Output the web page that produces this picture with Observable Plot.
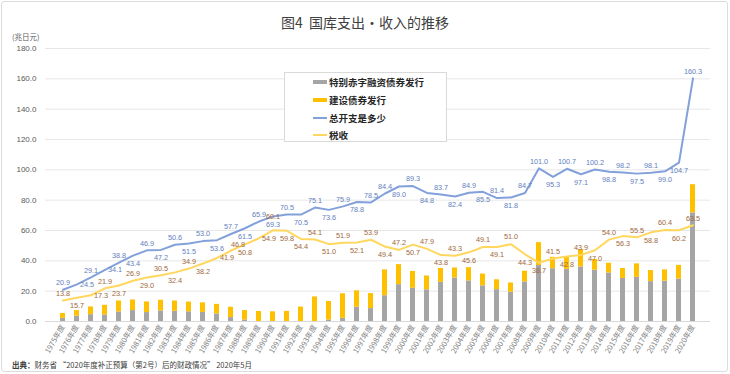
<!DOCTYPE html>
<html>
<head>
<meta charset="utf-8">
<script src="https://cdn.jsdelivr.net/npm/d3@7"></script>
<script src="https://cdn.jsdelivr.net/npm/@observablehq/plot@0.6"></script>
<style>
  html, body { margin: 0; padding: 0; background: #fff; }
  body { font-family: "Noto Sans CJK SC", "Noto Sans", sans-serif; }
  #wrap { position: relative; width: 730px; height: 374px; overflow: hidden; }
  #frame { position: absolute; left: 1px; top: 1px; width: 727px; height: 371px; border: 1px solid #dcdcdc; border-radius: 3px; box-sizing: border-box; pointer-events: none; }
  #title { position: absolute; left: 0; width: 730px; top: 12px; text-align: center; font-size: 14px; color: #404040; }
  #unit { position: absolute; left: 12px; top: 31px; font-size: 7.5px; color: #595959; }
  #source { position: absolute; left: 12px; top: 359px; font-size: 7.5px; color: #404040; }
  #source b { font-weight: 700; }
  #legend { position: absolute; left: 284px; top: 72px; width: 163px; height: 70px; border: 1px solid #d9d9d9; background: #fff; box-sizing: border-box; }
  .item { position: absolute; left: 28px; height: 14px; display: flex; align-items: center; font-size: 9.5px; font-weight: 700; color: #262626; }
  .sw { width: 14px; margin-right: 2px; }
  #chart { position: absolute; left: 0; top: 0; }
</style>
</head>
<body>
<div id="wrap">
  <div id="chart"></div>
  <div id="title">图4&nbsp;&nbsp;国库支出・收入的推移</div>
  <div id="unit">(兆日元)</div>
  <div id="legend"></div>
  <div id="source"><b>出典：</b>财务省 “2020年度补正预算（第2号）后的财政情况” 2020年5月</div>
  <div id="frame"></div>
</div>
<script>
const years = [1975,1976,1977,1978,1979,1980,1981,1982,1983,1984,
  1985,1986,1987,1988,1989,1990,1991,1992,1993,1994,
  1995,1996,1997,1998,1999,2000,2001,2002,2003,2004,
  2005,2006,2007,2008,2009,2010,2011,2012,2013,2014,
  2015,2016,2017,2018,2019,2020];

const totalSpending = [20.9,24.5,29.1,34.1,38.8,43.4,46.9,47.2,50.6,51.5,
  53.0,53.6,57.7,61.5,65.9,69.3,70.5,70.5,75.1,73.6,
  75.9,78.8,78.5,84.4,89.0,89.3,84.8,83.7,82.4,84.9,
  85.5,81.4,81.8,84.7,101.0,95.3,100.7,97.1,100.2,98.8,
  98.2,97.5,98.1,99.0,104.7,160.3];

const taxRevenue = [13.8,15.7,17.3,21.9,23.7,26.9,29.0,30.5,32.4,34.9,
  38.2,41.9,46.8,50.8,54.9,60.1,59.8,54.4,54.1,51.0,
  51.9,52.1,53.9,49.4,47.2,50.7,47.9,43.8,43.3,45.6,
  49.1,49.1,51.0,44.3,38.7,41.5,42.8,43.9,47.0,54.0,
  56.3,55.5,58.8,60.4,60.2,63.5];

const deficitBonds = [2.1,3.5,4.5,4.3,6.3,7.2,5.9,7.0,6.7,6.4,
  6.0,5.0,2.6,1.0,0.0,0.0,0.0,0.0,0.0,1.0,
  2.1,9.4,8.5,17.0,24.3,21.9,20.9,25.8,28.7,26.8,
  23.5,21.0,19.3,26.1,36.9,34.8,34.4,36.0,33.8,32.0,
  28.4,29.1,26.3,26.6,28.0,71.6];

const constructionBonds = [3.2,3.7,5.1,6.4,7.2,7.0,7.0,7.0,6.8,6.4,
  6.3,6.3,6.8,6.2,6.6,6.4,6.7,9.5,16.2,12.2,
  16.2,10.8,9.9,17.0,13.2,11.1,9.1,9.2,6.6,8.7,
  7.8,6.5,6.1,7.1,15.1,7.5,8.4,11.4,7.1,6.4,
  6.5,8.9,7.3,7.4,9.0,18.6];

const seriesNames = ["特别赤字融资债券发行", "建设债券发行", "总开支是多少", "税收"];
const yTicks = [0,20,40,60,80,100,120,140,160,180];

const colors = {
  deficit: "#a5a5a5",
  construction: "#ffc000",
  spend: "#82a0da",
  spendText: "#6482c0",
  tax: "#ffd75e",
  taxText: "#a06a3c"
};

// layout constants (not data)
const W = 730, H = 374, mT = 48, mB = 53, mL = 45, mR = 20;
const padIn = 0.65, padOut = 0.25;
const LABEL_FS = 7.3;

const bondRows = years.flatMap((year, i) => [
  {year, series: seriesNames[0], value: deficitBonds[i]},
  {year, series: seriesNames[1], value: constructionBonds[i]}
]);
const spendRows = years.map((year, i) => ({year, value: totalSpending[i]}));
const taxRows = years.map((year, i) => ({year, value: taxRevenue[i]}));

// ---- data-label placement ----
function sides(vals, threshold) {
  const out = [];
  vals.forEach((v, i) => {
    if (i === 0 || i === vals.length - 1) { out.push("above"); return; }
    const diff = v - (vals[i - 1] + vals[i + 1]) / 2;
    if (Math.abs(diff) < threshold) out.push(out[i - 1] === "above" ? "below" : "above");
    else out.push(diff >= 0 ? "above" : "below");
  });
  return out;
}
const spendSide = sides(totalSpending, 0);
const taxSide = sides(taxRevenue, 1.0);

// mirror of the plot's scales, only used to detect label collisions
const xs = d3.scaleBand(years, [mL, W - mR]).paddingInner(padIn).paddingOuter(padOut);
const ys = d3.scaleLinear([0, 180], [H - mB, mT]);
const fmtV = v => v.toFixed(1);
const textW = s => [...s].reduce((a, c) => a + (c === "." ? 0.278 : 0.556) * LABEL_FS, 0);
const TH = 7.5;

const placed = [];
const labels = [];
function overlap(b) {
  let area = 0;
  for (const p of placed) {
    const ox = (p.w + b.w) / 2 + 0.4 - Math.abs(p.x - b.x);
    const oy = TH + 0.4 - Math.abs(p.y - b.y);
    if (ox > 0 && oy > 0) area += ox * oy;
  }
  return area;
}
function place(row, pref, series) {
  const s = fmtV(row.value), w = textW(s);
  const px = xs(row.year) + xs.bandwidth() / 2, py = ys(row.value);
  const A = {dx: 0, dy: -7}, B = {dx: 0, dy: 8};
  const R = {dx: Math.round(w / 2 + 3), dy: 0}, L = {dx: -Math.round(w / 2 + 3), dy: 0};
  const AR = {dx: Math.round(w / 2), dy: -6}, BR = {dx: Math.round(w / 2), dy: 7};
  const AA = {dx: 0, dy: -14}, BB = {dx: 0, dy: 15};
  const cands = pref === "above" ? [A, B, R, AR, BR, L, AA, BB] : [B, A, R, BR, AR, L, BB, AA];
  let best = null, bestArea = Infinity;
  for (const c of cands) {
    const a = overlap({x: px + c.dx, y: py + c.dy, w});
    if (a === 0) { best = c; break; }
    if (a < bestArea) { bestArea = a; best = c; }
  }
  placed.push({x: px + best.dx, y: py + best.dy, w});
  labels.push({...row, series, dx: best.dx, dy: best.dy});
}
years.forEach((y, i) => {
  place(spendRows[i], spendSide[i], "spend");
  place(taxRows[i], taxSide[i], "tax");
});
const labelGroups = d3.groups(labels, d => d.series + "|" + d.dx + "|" + d.dy);
const labelMarks = labelGroups.map(([key, rows]) => Plot.text(rows, {
  x: "year", y: "value", text: d => fmtV(d.value),
  dx: rows[0].dx, dy: rows[0].dy,
  fill: rows[0].series === "spend" ? colors.spendText : colors.taxText,
  fontSize: LABEL_FS
}));

const labelFont = "'Liberation Sans', Arial, sans-serif";

const chart = Plot.plot({
  width: W,
  height: H,
  marginTop: mT,
  marginBottom: mB,
  marginLeft: mL,
  marginRight: mR,
  style: { fontFamily: labelFont, fontSize: "8px", background: "transparent", overflow: "visible" },
  x: {
    type: "band",
    domain: years,
    paddingInner: padIn,
    paddingOuter: padOut,
    tickFormat: d => d + "年度",
    tickRotate: -60,
    tickSize: 0,
    tickPadding: 4,
    label: null
  },
  y: {
    domain: [0, 180],
    ticks: yTicks,
    tickFormat: d => d.toFixed(1),
    tickSize: 0,
    tickPadding: 9,
    label: null
  },
  color: {
    domain: seriesNames.slice(0, 2),
    range: [colors.deficit, colors.construction]
  },
  marks: [
    Plot.ruleY(yTicks, {stroke: "#e7e7e7", strokeWidth: 1}),
    Plot.ruleY([0], {stroke: "#d9d9d9", strokeWidth: 1}),
    Plot.barY(bondRows, Plot.stackY({x: "year", y: "value", fill: "series"})),
    Plot.line(spendRows, {x: "year", y: "value", stroke: colors.spend, strokeWidth: 2}),
    Plot.line(taxRows, {x: "year", y: "value", stroke: colors.tax, strokeWidth: 2}),
    ...labelMarks
  ]
});

// axis styling
chart.querySelectorAll('[aria-label^="x-axis"] text').forEach(t => {
  t.setAttribute("fill", "#808080");
  t.style.fontSize = "7.5px";
  t.style.fontFamily = "'Noto Sans CJK SC', sans-serif";
});
chart.querySelectorAll('[aria-label^="y-axis"] text').forEach(t => {
  t.setAttribute("fill", "#595959");
  t.style.fontSize = "8px";
});
document.getElementById("chart").appendChild(chart);

// legend
const legendItems = [
  {name: seriesNames[0], color: colors.deficit, h: 4},
  {name: seriesNames[1], color: colors.construction, h: 4},
  {name: seriesNames[2], color: colors.spend, h: 2},
  {name: seriesNames[3], color: colors.tax, h: 2}
];
const legend = document.getElementById("legend");
const rowTops = [2, 20, 38, 55];
legendItems.forEach((it, i) => {
  const row = document.createElement("div");
  row.className = "item";
  row.style.top = rowTops[i] + "px";
  const sw = document.createElement("span");
  sw.className = "sw";
  sw.style.height = it.h + "px";
  sw.style.background = it.color;
  row.appendChild(sw);
  const tx = document.createElement("span");
  tx.textContent = it.name;
  row.appendChild(tx);
  legend.appendChild(row);
});
</script>
</body>
</html>
